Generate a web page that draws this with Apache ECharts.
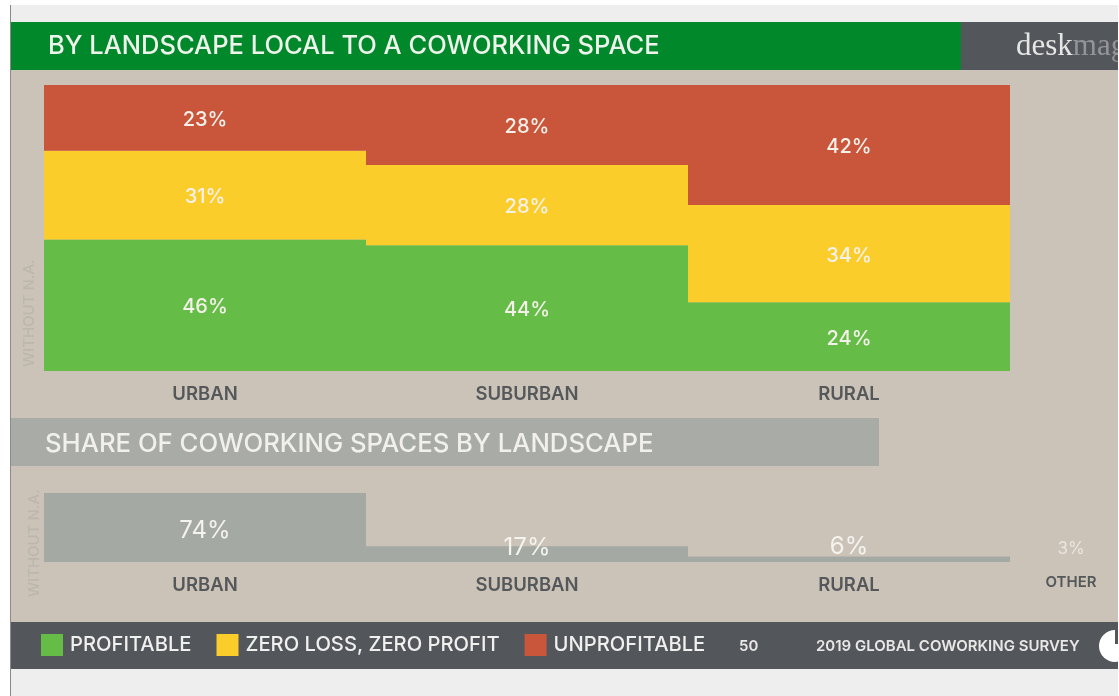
<!DOCTYPE html>
<html>
<head>
<meta charset="utf-8">
<style>
  html, body { margin: 0; padding: 0; background: #fff; }
  #main { width: 1119px; height: 696px; }
</style>
<script src="https://cdn.jsdelivr.net/npm/echarts@6/dist/echarts.min.js"></script>
</head>
<body>
<div id="main"></div>
<script>
const landscapes = ["URBAN", "SUBURBAN", "RURAL"];
const profitable = [46, 44, 24];
const zeroLoss = [31, 28, 34];
const unprofitable = [23, 28, 42];

const shareLandscapes = ["URBAN", "SUBURBAN", "RURAL"];
const shareValues = [74, 17, 6];
const otherCategory = ["OTHER"];
const otherValue = [3];

const FONT = "Inter";
const GREEN = "#65bc46";
const YELLOW = "#fbcd2b";
const RED = "#c9553b";
const BAR_GREY = "#a5a9a3";
const SLATE = "#53575c";
const SAND = "#cbc3b8";

// the share labels sit off-centre in the original, so nudge them (px)
const shareLabelNudge = [3, -6, -12];

const chart = echarts.init(document.getElementById("main"));

function rect(x, y, width, height, fill) {
  return { type: "rect", silent: true, shape: { x, y, width, height }, style: { fill } };
}

function sideNote(x, y) {
  return {
    type: "text", x, y, rotation: Math.PI / 2, silent: true,
    style: { text: "WITHOUT N.A.", fill: "#bcb7ad", font: "500 15px " + FONT, textAlign: "left", textVerticalAlign: "middle" }
  };
}

function stacked(name, values, color) {
  return {
    name, type: "bar", stack: "share", data: values,
    barCategoryGap: 0,
    itemStyle: { color },
    label: { show: true, position: "inside", offset: [0, 2], formatter: "{c}%", color: "#f4f1ea", fontFamily: FONT, fontSize: 20, fontWeight: 500 }
  };
}

const axisLabel = { color: "#55585a", fontFamily: FONT, fontSize: 18.5, fontWeight: 600, margin: 14 };

const option = {
  animation: false,
  backgroundColor: "#fff",
  title: [
    { text: "BY LANDSCAPE LOCAL TO A COWORKING SPACE", left: 43, top: 28, textStyle: { color: "#eef4ec", fontFamily: FONT, fontSize: 25.5, fontWeight: 500 } },
    { text: "SHARE OF COWORKING SPACES BY LANDSCAPE", left: 40, top: 426, textStyle: { color: "#f1f0ec", fontFamily: FONT, fontSize: 25.7, fontWeight: 500 } }
  ],
  legend: {
    data: ["PROFITABLE", "ZERO LOSS, ZERO PROFIT", "UNPROFITABLE"],
    left: 41, top: 634, padding: 0, itemWidth: 22, itemHeight: 22, itemGap: 25,
    icon: "rect",
    selectedMode: false,
    textStyle: { color: "#f0f0ee", fontFamily: FONT, fontSize: 20.2, fontWeight: 500, padding: [6, 0, 0, 2] }
  },
  grid: [
    { left: 44, width: 966, top: 85, height: 286 },
    { left: 44, width: 966, top: 493, height: 69 },
    { left: 1040, width: 62, top: 493, height: 69 }
  ],
  xAxis: [
    { type: "category", gridIndex: 0, data: landscapes, axisLine: { show: false }, axisTick: { show: false }, axisLabel },
    { type: "category", gridIndex: 1, data: shareLandscapes, axisLine: { show: false }, axisTick: { show: false }, axisLabel },
    { type: "category", gridIndex: 2, data: otherCategory, axisLine: { show: false }, axisTick: { show: false }, axisLabel: { ...axisLabel, fontSize: 15, margin: 13 } }
  ],
  yAxis: [
    { type: "value", gridIndex: 0, min: 0, max: 100, show: false },
    { type: "value", gridIndex: 1, min: 0, max: 74, show: false },
    { type: "value", gridIndex: 2, min: 0, max: 74, show: false }
  ],
  series: [
    stacked("PROFITABLE", profitable, GREEN),
    stacked("ZERO LOSS, ZERO PROFIT", zeroLoss, YELLOW),
    stacked("UNPROFITABLE", unprofitable, RED),
    {
      type: "bar", xAxisIndex: 1, yAxisIndex: 1, barCategoryGap: 0,
      data: shareValues.map((value, i) => ({
        value,
        label: { offset: [0, shareLabelNudge[i]] }
      })),
      itemStyle: { color: BAR_GREY },
      label: { show: true, position: "inside", formatter: "{c}%", color: "#f4f3ef", fontFamily: FONT, fontSize: 24, fontWeight: 400 }
    },
    {
      type: "bar", xAxisIndex: 2, yAxisIndex: 2, barCategoryGap: 0,
      data: otherValue,
      itemStyle: { color: "transparent" },
      label: { show: true, position: "inside", offset: [0, -12], formatter: "{c}%", color: "#e9e6df", fontFamily: FONT, fontSize: 17 }
    }
  ],
  graphic: [
    rect(11, 5, 1107, 691, "#eeeeee"),
    rect(10, 5, 1, 691, "#8a8a8a"),
    rect(11, 70, 1107, 552, SAND),
    rect(11, 22, 950, 48, "#00882b"),
    rect(961, 22, 157, 48, SLATE),
    rect(11, 418, 868, 48, "#a9aca6"),
    rect(11, 622, 1107, 47, SLATE),
    sideNote(29, 367),
    sideNote(34, 597),
    {
      type: "text", x: 1016, y: 47, silent: true,
      style: {
        text: "{a|desk}{b|mag}", textVerticalAlign: "middle",
        rich: {
          a: { fill: "#e6e6e4", font: "31px 'Liberation Serif'" },
          b: { fill: "#93959a", font: "31px 'Liberation Serif'" }
        }
      }
    },
    { type: "text", x: 739, y: 646, silent: true, style: { text: "50", fill: "#e8e8e6", font: "600 15px " + FONT, textVerticalAlign: "middle" } },
    { type: "text", x: 816, y: 646, silent: true, style: { text: "2019 GLOBAL COWORKING SURVEY", fill: "#e8e8e6", font: "600 15px " + FONT, textVerticalAlign: "middle" } },
    { type: "circle", silent: true, shape: { cx: 1115, cy: 646, r: 16 }, style: { fill: "#fff" } },
    rect(1115, 630, 3, 14, SLATE),
    rect(1118, 5, 1, 691, "#ffffff")
  ]
};

chart.setOption(option);
</script>
</body>
</html>
